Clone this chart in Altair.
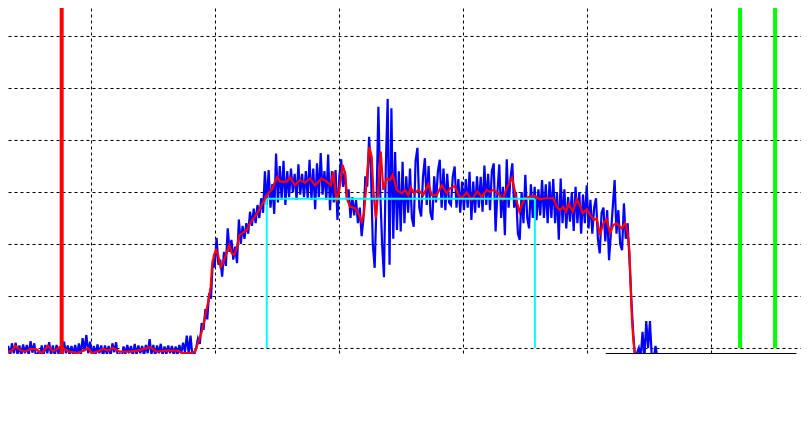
import altair as alt
import pandas as pd

# ---- data (x: time units, y: signal units) ----
blue_start = 27
blue_step = 1.5
blue_values = [
    0.3, -1.5, 0.8, -1.2, 0.4, -1.6, 0.9, -1.0, 1.0, -1.3,
    0.5, -1.5, 0.7, -1.0, 0.6, -1.4, 1.3, -0.9, 0.9, -2.0,
    -1.0, -2.0, 0.5, -1.4, 0.6, -1.0, 1.1, -1.3, 0.5, -1.5,
    0.6, -1.1, 0.3, -1.5, 1.2, -1.0, 0.5, -1.6, 0.4, -1.2,
    0.6, -1.4, 0.9, -1.3, 1.9, -0.6, 2.5, -1.0, 1.2, -1.5,
    0.4, -1.2, 0.7, -1.0, 0.5, -1.6, 0.5, -1.2, 0.4, -1.6,
    0.9, -0.8, 1.1, -2.0, -1.2, -2.0, 0.3, -1.2, 0.6, -1.0,
    0.4, -1.5, 0.8, -1.3, 0.5, -1.0, 0.4, -1.4, 0.6, -1.0,
    1.7, -1.2, 0.6, -1.5, 0.5, -1.0, 0.8, -1.4, 0.3, -1.2,
    0.5, -1.0, 0.4, -1.5, 0.3, -1.3, 0.6, -1.0, 1.0, -0.8,
    2.4, -1.0, 2.4, -1.5, -1.2, 0.0, 1.8, 0.8, 4.8, 3.5,
    7.5, 5.5, 10.5, 9.5, 17.0, 15.5, 21.2, 16.0, 17.0, 13.7,
    18.5, 15.8, 23.0, 18.5, 20.8, 17.0, 19.5, 16.3, 24.7, 20.0,
    23.5, 21.0, 24.0, 22.0, 26.2, 23.5, 26.8, 24.0, 27.5, 25.0,
    28.8, 26.0, 34.0, 27.5, 34.2, 27.0, 31.5, 25.8, 37.4, 28.0,
    35.0, 28.5, 36.0, 27.5, 34.0, 29.0, 34.5, 30.0, 33.5, 28.5,
    35.3, 29.5, 33.5, 29.0, 34.0, 28.8, 36.2, 28.5, 34.5, 26.7,
    35.5, 29.0, 37.5, 29.5, 34.0, 28.5, 37.2, 26.5, 34.0, 28.0,
    34.2, 24.6, 33.0, 36.3, 31.0, 34.0, 28.5, 30.5, 25.0, 29.0,
    25.5, 28.5, 24.0, 27.0, 21.5, 25.0, 33.0, 31.0, 40.6, 34.0,
    20.0, 15.4, 28.0, 46.4, 30.0, 20.0, 13.6, 35.0, 47.9, 16.0,
    46.1, 21.0, 37.7, 22.7, 34.0, 22.4, 35.8, 24.0, 33.0, 26.0,
    34.5, 25.0, 23.3, 36.0, 38.5, 27.0, 25.3, 33.0, 36.5, 27.5,
    35.0, 26.0, 24.6, 33.0, 28.0, 34.0, 36.2, 27.0, 34.5, 26.5,
    33.5, 28.0, 27.5, 33.0, 34.9, 27.0, 32.5, 26.0, 32.0, 26.5,
    32.5, 27.0, 33.9, 24.6, 32.0, 26.0, 33.0, 27.0, 32.9, 26.2,
    35.1, 27.5, 33.5, 26.5, 34.0, 35.5, 22.4, 30.0, 35.3, 25.0,
    31.0, 21.7, 36.3, 27.0, 32.5, 35.5, 27.0, 30.0, 22.0, 20.8,
    30.0, 24.0, 33.3, 25.0, 23.0, 31.5, 25.0, 31.0, 24.6, 30.5,
    25.5, 32.3, 25.0, 31.5, 24.0, 32.0, 25.0, 32.5, 24.0, 30.0,
    20.8, 32.6, 24.0, 30.5, 23.0, 29.0, 24.3, 30.0, 22.5, 31.0,
    24.0, 30.0, 22.0, 29.5, 24.0, 31.3, 23.0, 28.5, 22.0, 27.0,
    28.8, 21.0, 18.2, 26.0, 27.0, 20.5, 26.5, 16.9, 22.0, 27.0,
    32.3, 22.0, 26.5, 20.0, 18.8, 27.8, 21.0, 24.0, 16.9, 9.2,
    2.9, -2.0, -1.0, 0.0, -2.0, 3.1, -2.0, 5.2, 0.0, 5.2,
    -2.0, -2.0, 0.4, -2.0,
]

red_x = [
    26.4, 32.0, 36.0, 38.5, 42.5, 46.5, 50.6, 55.4, 60.2, 65.1,
    69.1, 74.8, 82.0, 88.5, 94.9, 97.3, 100.6, 107.0, 109.4, 113.5,
    117.5, 123.1, 131.2, 139.3, 147.3, 153.0, 159.4, 169.9, 173.1, 179.6,
    183.6, 186.1, 189.0, 191.7, 194.1, 196.3, 197.3, 198.9, 200.6, 202.2,
    204.2, 206.2, 209.2, 211.3, 213.2, 215.3, 217.3, 219.4, 222.6, 225.3,
    227.4, 230.6, 234.7, 238.7, 242.7, 245.5, 248.1, 250.0, 252.2, 257.6,
    260.2, 264.3, 268.3, 272.3, 276.4, 280.4, 285.8, 289.8, 293.1, 295.2,
    297.9, 300.0, 302.7, 304.6, 306.5, 308.6, 312.7, 315.3, 318.1, 319.9,
    322.1, 324.2, 326.1, 327.4, 329.4, 331.5, 333.4, 335.5, 338.2, 340.9,
    343.1, 346.3, 350.3, 353.0, 355.6, 357.6, 360.3, 363.7, 367.7, 371.8,
    374.5, 378.5, 382.6, 386.6, 389.3, 393.3, 396.0, 398.7, 402.7, 406.8,
    411.3, 414.8, 418.9, 421.5, 424.2, 428.2, 431.8, 434.4, 437.1, 439.3,
    441.1, 443.1, 445.2, 447.1, 449.8, 453.8, 457.8, 461.9, 465.9, 469.9,
    472.6, 475.3, 478.0, 480.6, 482.8, 485.0, 488.2, 491.5, 494.1, 496.3,
    499.5, 502.2, 505.4, 507.6, 510.2, 512.9, 515.6, 518.3, 521.0, 523.7,
    527.7, 530.4, 532.3, 533.9, 535.0, 536.0, 537.1, 538.5,
]
red_y = [
    -0.7, -0.7, -0.6, 0.45, -0.4, -0.7, -0.2, -0.2, -1.0, 0.45,
    -0.7, 0.25, -0.7, -1.0, -0.4, 0.0, -1.0, -0.5, -0.2, -0.5,
    0.0, -0.7, -0.7, -0.4, 0.15, -0.7, -0.5, -0.5, -1.0, -1.0,
    -0.7, 1.0, 3.1, 6.0, 8.7, 11.8, 15.6, 17.9, 18.8, 17.9,
    15.6, 16.3, 18.3, 19.8, 18.2, 17.9, 19.2, 21.7, 22.2, 22.7,
    23.7, 24.9, 26.2, 28.1, 29.75, 30.4, 32.0, 32.9, 32.0, 32.0,
    32.8, 31.3, 32.3, 31.8, 32.6, 31.3, 32.6, 32.0, 31.3, 33.9,
    28.1, 30.4, 35.2, 33.6, 28.5, 27.2, 26.9, 25.9, 24.3, 25.9,
    32.3, 38.7, 36.8, 30.4, 24.9, 30.4, 37.75, 30.4, 32.6, 32.3,
    33.3, 30.4, 29.75, 30.4, 29.4, 30.9, 29.75, 30.4, 29.4, 31.5,
    29.4, 29.4, 31.3, 29.75, 30.7, 31.15, 29.4, 28.8, 29.9, 28.5,
    30.1, 29.1, 30.4, 30.0, 30.4, 29.75, 28.5, 30.4, 31.7, 32.8,
    30.7, 28.1, 26.2, 27.5, 28.8, 29.1, 29.2, 28.6, 28.8, 28.8,
    28.8, 27.2, 26.5, 27.2, 26.2, 27.7, 26.2, 28.6, 27.3, 25.9,
    26.7, 25.6, 24.6, 24.9, 21.7, 24.0, 24.75, 22.1, 23.65, 24.0,
    23.0, 24.0, 22.4, 18.8, 11.8, 5.4, 1.5, -1.7,
]

x_grid = [100, 200, 300, 400, 500, 600]
y_grid = [0, 10, 20, 30, 40, 50, 60]
x_domain = [32.82, 672.3]
y_domain = [-1.154, 65.38]

red_marker_x = [76.1]
green_marker_x = [623.2, 651.4]
cyan_x = [241.5, 457.7]
cyan_level = 28.7
box_x = [514.8, 668.6]
box_y = -1.06

# ---- tables ----
blue_df = pd.DataFrame({
    "x": [blue_start + blue_step * i for i in range(len(blue_values))],
    "y": blue_values,
})
red_df = pd.DataFrame({"x": red_x, "y": red_y})

xs = alt.Scale(domain=x_domain, nice=False, zero=False)
ys = alt.Scale(domain=y_domain, nice=False, zero=False)

grid_axis_x = alt.Axis(values=x_grid, grid=True, labels=False, ticks=False,
                       domain=False, title=None, gridColor="black",
                       gridDash=[3, 3], gridWidth=1, gridOpacity=1)
grid_axis_y = alt.Axis(values=y_grid, grid=True, labels=False, ticks=False,
                       domain=False, title=None, gridColor="black",
                       gridDash=[3, 3], gridWidth=1, gridOpacity=1)


def X(field="x"):
    return alt.X(f"{field}:Q", scale=xs, axis=grid_axis_x)


def Y(field="y"):
    return alt.Y(f"{field}:Q", scale=ys, axis=grid_axis_y)


blue = alt.Chart(blue_df).mark_line(color="#0000ff", strokeWidth=2.2, clip=True).encode(
    x=X(), y=Y(),
)

red = alt.Chart(red_df).mark_line(color="#ff0000", strokeWidth=2.2, clip=True).encode(
    x=X(), y=Y(),
)

cyan_v = alt.Chart(pd.DataFrame({"x": cyan_x, "y": [0, 0], "y2": [cyan_level] * 2})).mark_rule(
    color="#00ffff", strokeWidth=2, clip=True).encode(
    x=X(), y=Y(), y2="y2:Q",
)
cyan_h = alt.Chart(pd.DataFrame({"x": [cyan_x[0]], "x2": [cyan_x[1]], "y": [cyan_level]})).mark_rule(
    color="#00ffff", strokeWidth=2, clip=True).encode(
    x=X(), x2="x2:Q", y=Y(),
)

red_v = alt.Chart(pd.DataFrame({"x": red_marker_x})).mark_rule(
    color="#ff0000", strokeWidth=4, clip=True).encode(
    x=X(),
)

green_v = alt.Chart(pd.DataFrame({"x": green_marker_x, "y": [0, 0],
                                  "y2": [y_domain[1]] * 2})).mark_rule(
    color="#00ff00", strokeWidth=4, clip=True).encode(
    x=X(), y=Y(), y2="y2:Q",
)

box_edge = alt.Chart(pd.DataFrame({"x": [box_x[0]], "x2": [box_x[1]], "y": [box_y]})).mark_rule(
    color="black", strokeWidth=1, clip=True).encode(
    x=X(), x2="x2:Q", y=Y(),
)

chart = alt.layer(blue, red, cyan_v, cyan_h, red_v, green_v, box_edge).properties(
    width=793, height=346, padding=0, autosize="none", background="white"
).configure_view(stroke=None)

chart.save("out.html", embed_options={"renderer": "svg", "actions": False})
